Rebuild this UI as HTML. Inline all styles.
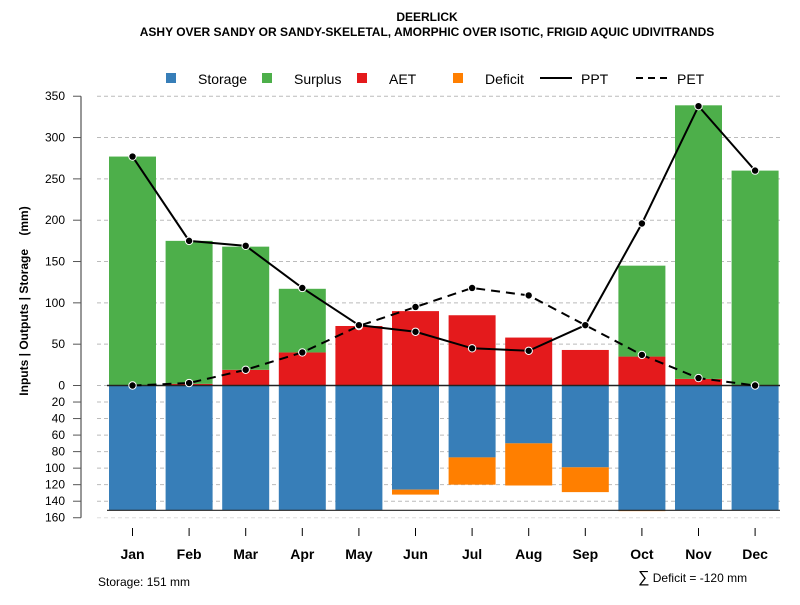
<!DOCTYPE html>
<html><head><meta charset="utf-8"><style>
body{margin:0;background:#fff}
svg{font-family:"Liberation Sans",sans-serif}
</style></head><body>
<svg id="c" width="800" height="600" xmlns="http://www.w3.org/2000/svg">
<text x="427" y="21" text-anchor="middle" font-size="12" font-weight="bold">DEERLICK</text>
<text x="427" y="36" text-anchor="middle" font-size="12" font-weight="bold">ASHY OVER SANDY OR SANDY-SKELETAL, AMORPHIC OVER ISOTIC, FRIGID AQUIC UDIVITRANDS</text>
<g id="grid"></g><g id="bars"></g><g id="lines"></g><g id="axes"></g>
<g font-size="14">
<rect x="166" y="73" width="10" height="10" fill="#377eb8"/>
<text x="198" y="84">Storage</text>
<rect x="262" y="73" width="10" height="10" fill="#4daf4a"/>
<text x="294" y="84">Surplus</text>
<rect x="357" y="73" width="10" height="10" fill="#e41a1c"/>
<text x="389" y="84">AET</text>
<rect x="453" y="73" width="10" height="10" fill="#ff7f00"/>
<text x="485" y="84">Deficit</text>
<line x1="540" y1="78" x2="572" y2="78" stroke="#000" stroke-width="2"/>
<text x="581" y="84">PPT</text>
<line x1="636" y1="78" x2="668" y2="78" stroke="#000" stroke-width="2" stroke-dasharray="7,5"/>
<text x="677" y="84">PET</text>
</g>
<text x="28" y="301" transform="rotate(-90 28 301)" text-anchor="middle" font-size="12" font-weight="bold" style="white-space:pre">Inputs | Outputs | Storage    (mm)</text>
<text x="98" y="586" font-size="12">Storage: 151 mm</text>
<text x="638" y="582" font-size="12"><tspan font-size="16">∑</tspan> Deficit = -120 mm</text>
</svg>
<script>
const months=["Jan","Feb","Mar","Apr","May","Jun","Jul","Aug","Sep","Oct","Nov","Dec"];
const storage=[151,151,151,151,151,126,87,70,99,151,151,151];
const deficit=[0,0,0,0,0,6,33,51,30,1,0,0];
const aet=[0,2,19,40,72,90,85,58,43,35,8,0];
const surplus=[277,173,149,77,0,0,0,0,0,110,331,260];
const ppt=[277,175,169,118,73,65,45,42,73,196,338,260];
const pet=[0,3,19,40,72,95,118,109,73,37,9,0];
const posTicks=[0,50,100,150,200,250,300,350];
const negTicks=[20,40,60,80,100,120,140,160];
const NS="http://www.w3.org/2000/svg";
const y0=385.5,k=0.8265;
const yUp=v=>y0-v*k, yDn=v=>y0+v*k;
const xc=i=>132.5+i*56.6, bw=47;
function mk(p,t,a){const e=document.createElementNS(NS,t);for(const q in a)e.setAttribute(q,a[q]);document.getElementById(p).appendChild(e);return e;}
posTicks.forEach(v=>{const l=mk('grid','line',{x1:97,x2:780,y1:yUp(v),y2:yUp(v),stroke:'#bbb','stroke-dasharray':'4,3'});

});
negTicks.forEach(v=>{const l=mk('grid','line',{x1:97,x2:780,y1:yDn(v),y2:yDn(v),stroke:v==160?'#ddd':'#bbb','stroke-dasharray':'4,3'});

});
months.forEach((m,i)=>{
 const x=xc(i)-bw/2;
 let r=mk('bars','rect',{x:x,y:yUp(aet[i]),width:bw,height:aet[i]*k,fill:'#e41a1c'});
 
 
 r=mk('bars','rect',{x:x,y:yUp(aet[i]+surplus[i]),width:bw,height:surplus[i]*k,fill:'#4daf4a'});
 
 
 r=mk('bars','rect',{x:x,y:y0,width:bw,height:storage[i]*k,fill:'#377eb8'});
 
 
 r=mk('bars','rect',{x:x,y:yDn(storage[i]),width:bw,height:deficit[i]*k,fill:'#ff7f00'});
 
 
});
let bl=mk('bars','line',{x1:107,x2:780,y1:y0,y2:y0,stroke:'#222','stroke-width':1.5});


bl=mk('bars','line',{x1:107,x2:780,y1:yDn(151),y2:yDn(151),stroke:'#222','stroke-width':1.2});


function series(arr,name,dash){
 const p=mk('lines','polyline',{points:arr.map((v,i)=>xc(i)+','+yUp(v)).join(' '),fill:'none',stroke:'#000','stroke-width':2,'stroke-dasharray':dash});
 
 
 arr.forEach((v,i)=>{const c=mk('lines','circle',{cx:xc(i),cy:yUp(v),r:3.7,fill:'#000',stroke:'#fff','stroke-width':1});
 
 });
}
series(pet,'pet','9,6');
series(ppt,'ppt','none');
let ax=mk('axes','line',{x1:81,x2:81,y1:yUp(350),y2:yDn(160),stroke:'#777','stroke-width':1.5});


posTicks.forEach(v=>{mk('axes','line',{x1:73,x2:81,y1:yUp(v),y2:yUp(v),stroke:'#555'});
 const t=mk('axes','text',{x:65,y:yUp(v)+4,'text-anchor':'end','font-size':12});t.textContent=v;
 
 });
negTicks.forEach(v=>{mk('axes','line',{x1:73,x2:81,y1:yDn(v),y2:yDn(v),stroke:'#555'});
 const t=mk('axes','text',{x:65,y:yDn(v)+4,'text-anchor':'end','font-size':12});t.textContent=v;
 
 });
months.forEach((m,i)=>{mk('axes','line',{x1:xc(i),x2:xc(i),y1:528,y2:536,stroke:'#000'});
 const t=mk('axes','text',{x:xc(i),y:559,'text-anchor':'middle','font-size':14,'font-weight':'bold'});t.textContent=m;
 
 });
</script>
</body></html>
